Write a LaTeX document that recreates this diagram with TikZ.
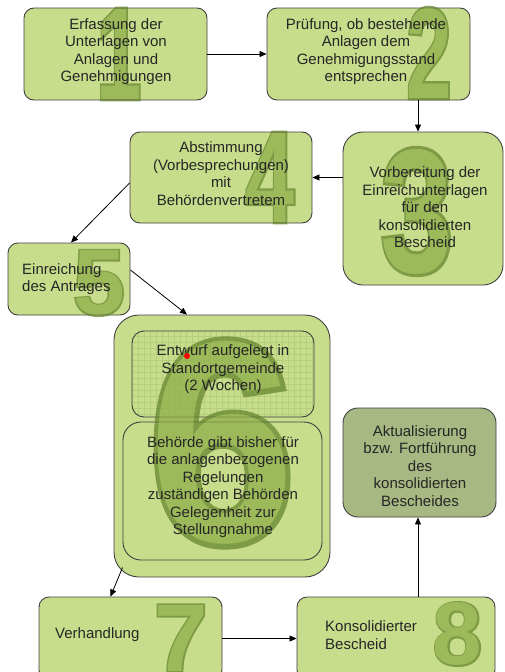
\documentclass[tikz,border=0pt]{standalone}
\usepackage{graphicx}
\usepackage{fontspec}
\setmainfont{Liberation Sans}
\newfontfamily\digitout[FakeBold=3.5]{Liberation Sans Bold}
\newfontfamily\digitin{Liberation Sans Bold}
\usetikzlibrary{arrows.meta,calc}
\definecolor{boxfill}{RGB}{200,221,139}
\definecolor{boxdark}{RGB}{168,184,130}
\definecolor{digitfill}{RGB}{140,172,70}
\definecolor{digitline}{RGB}{95,128,40}
\definecolor{boxline}{RGB}{64,64,64}
\tikzset{
  box/.style={draw=boxline, line width=0.9pt, fill=boxfill, rounded corners=#1, inner sep=0pt},
  box/.default=10pt,
  lbl/.style={font=\fontsize{15}{17.5}\selectfont, text=black!85, align=center, inner sep=0pt},
  lbll/.style={lbl, align=left, anchor=west},
  digit/.style={inner sep=0pt},
  arr/.style={-{Triangle[length=7pt,width=6pt]}, line width=0.8pt, black},
}
\newcommand{\bigdigit}[3]{\scalebox{#3}[1]{\resizebox{!}{#2pt}{%
  \rlap{\digitout\color{digitline}#1}{\digitin\color{digitfill}#1}}}}
\begin{document}
\begin{tikzpicture}[x=1pt,y=-1pt]
\path[use as bounding box, clip] (0,0) rectangle (505,672);
\fill[white] (0,0) rectangle (505,672);
% boxes
\node[box, minimum width=183pt, minimum height=92pt] (b1) at (115.5,54) {};
\node[box, minimum width=203pt, minimum height=92pt] (b2) at (368.5,54) {};
\node[box=20pt, minimum width=160pt, minimum height=153pt] (b3) at (423,208.5) {};
\node[box, minimum width=182pt, minimum height=91pt] (b4) at (221,177.5) {};
\node[box, minimum width=122pt, minimum height=72pt] (b5) at (69,279) {};
\node[box=25pt, minimum width=216pt, minimum height=262pt] (b6) at (222,446) {};
\node[box=12pt, minimum width=182pt, minimum height=86pt] (b6a) at (223,374) {};
\begin{scope}
  \clip[rounded corners=12pt] (b6a.south west) rectangle (b6a.north east);
  \draw[step=6pt, green!35!black, opacity=0.10, line width=0.3pt] (b6a.south west) grid (b6a.north east);
\end{scope}
\node[box=18pt, minimum width=199pt, minimum height=138pt] (b6b) at (222.5,491) {};
\node[box, minimum width=183pt, minimum height=83pt] (b7) at (130.5,638.5) {};
\node[box, minimum width=198pt, minimum height=83pt] (b8) at (396,638.5) {};
\node[box=15pt, fill=boxdark, minimum width=153pt, minimum height=109pt] (b9) at (419.5,462.5) {};
% big digits
\begin{scope}[transparency group, opacity=0.7]
\node[digit] (d1) at (119,54) {\bigdigit{1}{90}{0.62}};
\node[digit] (d2) at (429,53) {\bigdigit{2}{90}{0.63}};
\node[digit] (d3) at (417,211.5) {\bigdigit{3}{123}{0.74}};
\node[digit] (d4) at (270,177.5) {\bigdigit{4}{89}{0.68}};
\node[digit] (d5) at (99,283) {\bigdigit{5}{64}{1}};
\node[digit] (d6) at (222,443) {\bigdigit{6}{200}{0.92}};
\node[digit] (d7) at (181,638) {\bigdigit{7}{66}{1}};
\node[digit] (d8) at (457.5,634) {\bigdigit{8}{62}{1}};
\end{scope}
% texts
\node[lbl] (t1) at (116,51.5) {Erfassung der\\Unterlagen von\\Anlagen und\\Genehmigungen};
\node[lbl] (t2) at (366,51.5) {Prüfung, ob bestehende\\Anlagen dem\\Genehmigungsstand\\entsprechen};
\node[lbl] (t3) at (425,207.5) {Vorbereitung der\\Einreichunterlagen\\für den\\konsolidierten\\Bescheid};
\node[lbl] (t4) at (221,173.5) {Abstimmung\\(Vorbesprechungen)\\mit\\Behördenvertretem};
\node[lbll] (t5) at (22,279) {Einreichung\\des Antrages};
\node[lbl] (t6a) at (223,369.5) {Entwurf aufgelegt in\\Standortgemeinde\\(2 Wochen)};
\node[lbl] (t6b) at (223,487) {Behörde gibt bisher für\\die anlagenbezogenen\\Regelungen\\zuständigen Behörden\\Gelegenheit zur\\Stellungnahme};
\node[lbll] (t7) at (55,635) {Verhandlung};
\node[lbll] (t8) at (325,635) {Konsolidierter\\Bescheid};
\node[lbl] (t9) at (420,466) {Aktualisierung\\bzw. Fortführung\\des\\konsolidierten\\Bescheides};
\node[circle, fill=red, inner sep=0pt, minimum size=6pt] (dot) at (187,356) {};
% arrows
\coordinate (cx) at (418,0);
\draw[arr] (b1.east) -- (b2.west);
\draw[arr] (b2.south -| cx) -- (b3.north -| cx);
\draw[arr] (b3.west |- b4.east) -- (b4.east);
\draw[arr] ([yshift=-5.5pt]b4.west) -- ([xshift=2pt]b5.north);
\draw[arr] ([yshift=9pt]b5.east) -- ([xshift=-35pt]b6.north);
\draw[arr] ($(b6.south west)+(9,-10)$) -- ([xshift=-20pt]b7.north);
\draw[arr] (b7.east) -- (b8.west);
\draw[arr] (b8.north -| cx) -- (b9.south -| cx);
\end{tikzpicture}
\end{document}
